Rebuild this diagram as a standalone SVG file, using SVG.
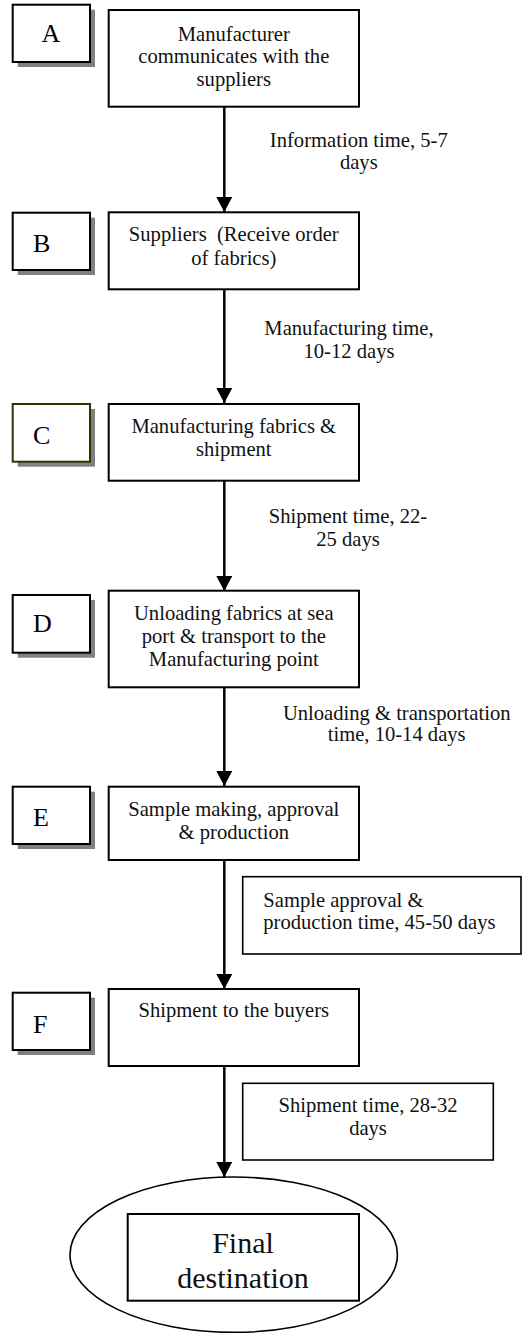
<svg xmlns="http://www.w3.org/2000/svg" width="522" height="1333" viewBox="0 0 522 1333">
<style>
.t{font-family:"Liberation Serif","Times New Roman",serif;font-size:20.6px;fill:#111;}
.c{text-anchor:middle;}
.L{font-family:"Liberation Serif","Times New Roman",serif;font-size:26px;fill:#000;}
.box{fill:#fff;stroke:#000;stroke-width:2;}
.lbox{fill:#fff;stroke:#000;stroke-width:2;}
.sh{fill:#808080;}
.lb{fill:#fff;stroke:#000;stroke-width:1.6;}
.con{stroke:#000;stroke-width:2.5;fill:none;}
</style>
<defs>
<marker id="ah" markerUnits="userSpaceOnUse" markerWidth="16" markerHeight="16" viewBox="0 0 16 16" refX="15" refY="8" orient="auto">
<path d="M0,0 L15,8 L0,16 Z" fill="#000"/>
</marker>
</defs>
<g id="connectors">
<line class="con" x1="224.3" y1="98" x2="224.3" y2="212" marker-end="url(#ah)"/>
<line class="con" x1="224.3" y1="289" x2="224.3" y2="403" marker-end="url(#ah)"/>
<line class="con" x1="224.3" y1="479" x2="224.3" y2="591" marker-end="url(#ah)"/>
<line class="con" x1="224.3" y1="687" x2="224.3" y2="786" marker-end="url(#ah)"/>
<line class="con" x1="224.3" y1="857" x2="224.3" y2="989" marker-end="url(#ah)"/>
<line class="con" x1="224.3" y1="1063" x2="224.3" y2="1177" marker-end="url(#ah)"/>
</g>
<g id="labelA">
<rect class="sh" x="17.7" y="9.7" width="77.3" height="57.3"/>
<rect class="lbox" x="12.7" y="4.7" width="77.3" height="57.3"/>
<text class="L c" x="51" y="42.3">A</text>
</g>
<g id="nodeA">
<rect class="box" x="108.7" y="10" width="250.3" height="96.7"/>
<text class="t c" x="233.8" y="40.7">Manufacturer</text>
<text class="t c" x="233.8" y="63.3">communicates with the</text>
<text class="t c" x="233.8" y="86">suppliers</text>
</g>
<g id="labelAB">
<text class="t c" x="358.8" y="147">Information time, 5-7</text>
<text class="t c" x="358.8" y="168.5">days</text>
</g>
<g id="labelB">
<rect class="sh" x="17.7" y="217.7" width="77.3" height="57.3"/>
<rect class="lbox" x="12.7" y="212.7" width="77.3" height="57.3"/>
<text class="L" x="33" y="251.7">B</text>
</g>
<g id="nodeB">
<rect class="box" x="108.7" y="212.3" width="250.3" height="77"/>
<text class="t c" x="233.8" y="240.7" style="white-space:pre">Suppliers  (Receive order</text>
<text class="t c" x="233.8" y="264.5">of fabrics)</text>
</g>
<g id="labelBC">
<text class="t c" x="349" y="335">Manufacturing time,</text>
<text class="t c" x="349" y="358">10-12 days</text>
</g>
<g id="labelC">
<rect class="sh" x="17.7" y="409" width="77.3" height="57.7"/>
<rect class="lbox" x="12.7" y="404" width="77.3" height="57.7" style="stroke:#333300"/>
<text class="L" x="33" y="444">C</text>
</g>
<g id="nodeC">
<rect class="box" x="108.7" y="404" width="250.3" height="76.7"/>
<text class="t c" x="233.8" y="433">Manufacturing fabrics &amp;</text>
<text class="t c" x="233.8" y="456">shipment</text>
</g>
<g id="labelCD">
<text class="t c" x="348" y="523">Shipment time, 22-</text>
<text class="t c" x="348" y="545.7">25 days</text>
</g>
<g id="labelD">
<rect class="sh" x="17.7" y="600" width="77.3" height="57.7"/>
<rect class="lbox" x="12.7" y="595" width="77.3" height="57.7"/>
<text class="L" x="33" y="632">D</text>
</g>
<g id="nodeD">
<rect class="box" x="108.7" y="590.7" width="250.3" height="96.6"/>
<text class="t c" x="233.8" y="620">Unloading fabrics at sea</text>
<text class="t c" x="233.8" y="643">port &amp; transport to the</text>
<text class="t c" x="233.8" y="666">Manufacturing point</text>
</g>
<g id="labelDE">
<text class="t c" x="396.7" y="720">Unloading &amp; transportation</text>
<text class="t c" x="396.7" y="741">time, 10-14 days</text>
</g>
<g id="labelE">
<rect class="sh" x="17.7" y="791.7" width="77.3" height="57.3"/>
<rect class="lbox" x="12.7" y="786.7" width="77.3" height="57.3"/>
<text class="L" x="33" y="825.7">E</text>
</g>
<g id="nodeE">
<rect class="box" x="108.7" y="786.7" width="250.3" height="73.3"/>
<text class="t c" x="233.8" y="816">Sample making, approval</text>
<text class="t c" x="233.8" y="839">&amp; production</text>
</g>
<g id="labelEF">
<rect class="lb" x="242.7" y="876.7" width="278.3" height="77.3"/>
<text class="t" x="263.3" y="907">Sample approval &amp;</text>
<text class="t" x="263.3" y="928.5">production time, 45-50 days</text>
</g>
<g id="labelF">
<rect class="sh" x="17.7" y="997.7" width="77.3" height="57.3"/>
<rect class="lbox" x="12.7" y="992.7" width="77.3" height="57.3"/>
<text class="L" x="33" y="1032.7">F</text>
</g>
<g id="nodeF">
<rect class="box" x="108.7" y="989" width="250.3" height="77"/>
<text class="t c" x="233.8" y="1016.7">Shipment to the buyers</text>
</g>
<g id="labelFG">
<rect class="lb" x="242.7" y="1083.3" width="250.6" height="76.7"/>
<text class="t c" x="368" y="1111.7">Shipment time, 28-32</text>
<text class="t c" x="368" y="1135">days</text>
</g>
<g id="final">
<ellipse cx="233.7" cy="1254.7" rx="163.7" ry="77.7" fill="#fff" stroke="#000" stroke-width="1.6"/>
<rect class="box" x="127.7" y="1214" width="231.3" height="86.7"/>
<text class="t c" x="243" y="1253" style="font-size:30px">Final</text>
<text class="t c" x="243" y="1288" style="font-size:30px">destination</text>
</g>
</svg>
